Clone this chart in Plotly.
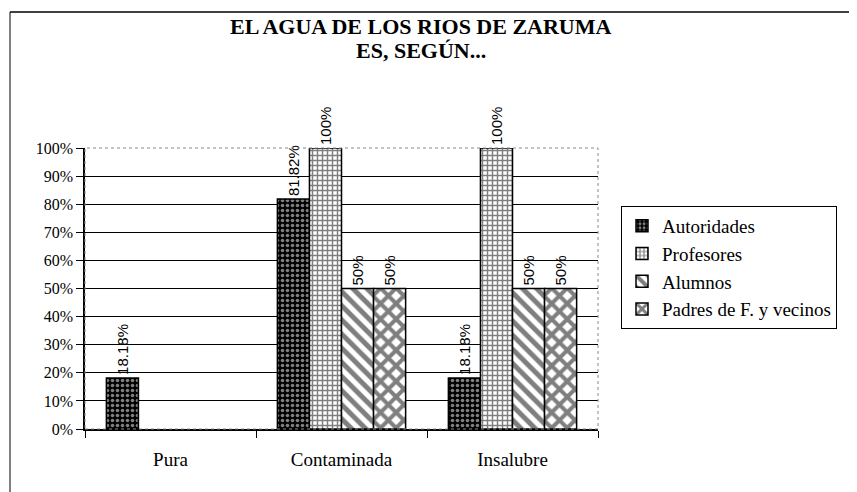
import plotly.graph_objects as go

# Datos
categorias = ["Pura", "Contaminada", "Insalubre"]
autoridades = [0.1818, 0.8182, 0.1818]
profesores = [None, 1.00, 1.00]
alumnos = [None, 0.50, 0.50]
padres = [None, 0.50, 0.50]

etiquetas_autoridades = ["18.18%", "81.82%", "18.18%"]
etiquetas_profesores = ["", "100%", "100%"]
etiquetas_alumnos = ["", "50%", "50%"]
etiquetas_padres = ["", "50%", "50%"]

ticks_y = [0, 0.1, 0.2, 0.3, 0.4, 0.5, 0.6, 0.7, 0.8, 0.9, 1.0]

series = [
    ("Autoridades", autoridades, etiquetas_autoridades,
     dict(shape=".", bgcolor="black", fgcolor="white", size=5, solidity=0.4)),
    ("Profesores", profesores, etiquetas_profesores,
     dict(shape="+", bgcolor="white", fgcolor="black", size=5, solidity=0.5)),
    ("Alumnos", alumnos, etiquetas_alumnos,
     dict(shape="\\", bgcolor="white", fgcolor="black", size=10, solidity=0.5)),
    ("Padres de F. y vecinos", padres, etiquetas_padres,
     dict(shape="x", bgcolor="white", fgcolor="black", size=11, solidity=0.6)),
]

SERIF = "Times New Roman, Liberation Serif, serif"

# la página añade 8 px de margen al cuerpo
W, H = 849, 484
L, T, PW, PH = 77, 140, 513, 281

fig = go.Figure()
for nombre, valores, etiquetas, patron in series:
    fig.add_trace(go.Bar(
        x=categorias, y=valores, name=nombre,
        text=etiquetas, textposition="outside", textangle=-90,
        constraintext="none",
        textfont=dict(family="Liberation Sans", size=15, color="black"),
        marker=dict(color="white", line=dict(color="black", width=1.5), pattern=patron),
        cliponaxis=False,
    ))

def py(px):
    return (T + PH - px) / PH

def pxx(px):
    return (px - L) / PW

fig.update_layout(
    width=W, height=H,
    margin=dict(l=L, r=W - L - PW, t=T, b=H - T - PH),
    paper_bgcolor="white", plot_bgcolor="white",
    font=dict(family=SERIF, color="black"),
    barmode="group", bargap=0.25, bargroupgap=0,
    showlegend=True,
    legend=dict(
        x=pxx(613), y=py(198), xanchor="left", yanchor="top",
        bordercolor="black", borderwidth=1, bgcolor="white",
        font=dict(family=SERIF, size=19, color="black"),
        tracegroupgap=0, itemwidth=30,
    ),
    xaxis=dict(
        showline=True, linecolor="black", linewidth=1.5,
        ticks="outside", tickson="boundaries", ticklen=7, tickcolor="black",
        tickfont=dict(family=SERIF, size=19), ticklabelstandoff=12,
    ),
    yaxis=dict(
        range=[0, 1], tickvals=ticks_y, tickformat=".0%",
        showgrid=True, gridcolor="black", gridwidth=1,
        showline=True, linecolor="black", linewidth=1.5,
        ticks="outside", ticklen=7, tickcolor="black",
        tickfont=dict(family=SERIF, size=16),
    ),
    annotations=[
        dict(text="<b>EL AGUA DE LOS RIOS DE ZARUMA</b>", xref="paper", yref="paper",
             x=pxx(413), y=py(19), xanchor="center", yanchor="middle", showarrow=False,
             font=dict(family=SERIF, size=22, color="black")),
        dict(text="<b>ES, SEGÚN...</b>", xref="paper", yref="paper",
             x=pxx(413), y=py(42), xanchor="center", yanchor="middle", showarrow=False,
             font=dict(family=SERIF, size=22, color="black")),
    ],
    shapes=[
        dict(type="rect", xref="paper", yref="paper", x0=0, x1=1, y0=0, y1=1,
             line=dict(color="#888", width=1, dash="dot")),
        dict(type="line", xref="paper", yref="paper", x0=pxx(2), x1=pxx(W), y0=py(4), y1=py(4),
             line=dict(color="black", width=1.5)),
        dict(type="line", xref="paper", yref="paper", x0=pxx(2), x1=pxx(2), y0=py(4), y1=py(H),
             line=dict(color="black", width=1)),
    ],
)

fig.write_html("out.html")
